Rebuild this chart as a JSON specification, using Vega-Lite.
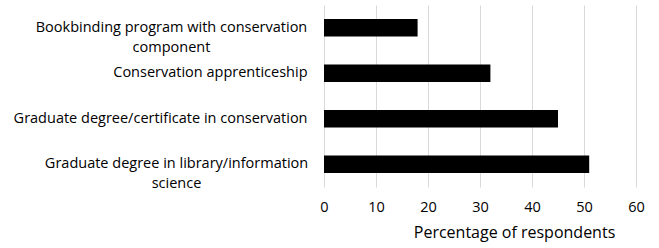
{
  "$schema": "https://vega.github.io/schema/vega-lite/v6.json",
  "autosize": {"type": "none"},
  "width": 312,
  "height": 182,
  "padding": {"left": 324, "top": 5, "right": 23, "bottom": 61},
  "background": "white",
  "data": {"values": [
    {"category": "Bookbinding program with conservation component", "value": 18},
    {"category": "Conservation apprenticeship", "value": 32},
    {"category": "Graduate degree/certificate in conservation", "value": 45},
    {"category": "Graduate degree in library/information science", "value": 51}
  ]},
  "config": {
    "font": "Open Sans",
    "view": {"stroke": null}
  },
  "mark": {"type": "bar", "color": "#000000"},
  "encoding": {
    "y": {
      "field": "category", "type": "nominal", "sort": null,
      "scale": {"paddingInner": 0.62, "paddingOuter": 0.31},
      "axis": {
        "title": null, "ticks": false, "domain": false, "grid": false,
        "labelFontSize": 14.5, "labelColor": "#000000", "labelLimit": 400,
        "labelPadding": {"condition": [
          {"test": "datum.value == 'Bookbinding program with conservation component'", "value": 153},
          {"test": "datum.value == 'Graduate degree in library/information science'", "value": 148}
        ], "value": 17},
        "labelAlign": {"condition": {"test": "datum.value == 'Bookbinding program with conservation component' || datum.value == 'Graduate degree in library/information science'", "value": "center"}, "value": "right"},
        "labelLineHeight": 20,
        "labelExpr": "datum.value == 'Bookbinding program with conservation component' ? ['Bookbinding program with conservation', 'component'] : datum.value == 'Graduate degree in library/information science' ? ['Graduate degree in library/information', 'science'] : datum.value"
      }
    },
    "x": {
      "field": "value", "type": "quantitative",
      "scale": {"domain": [0, 60]},
      "axis": {
        "title": "Percentage of respondents", "values": [0, 10, 20, 30, 40, 50, 60],
        "grid": true, "gridColor": "#d9d9d9", "gridWidth": 1,
        "domain": false, "ticks": false, "labelFlush": false,
        "labelFontSize": 14.5, "labelColor": "#000000", "labelPadding": 13,
        "titleFontSize": 16, "titleFontWeight": "normal", "titleColor": "#000000", "titlePadding": 11,
        "titleAnchor": "middle", "titleX": 190
      }
    }
  }
}
